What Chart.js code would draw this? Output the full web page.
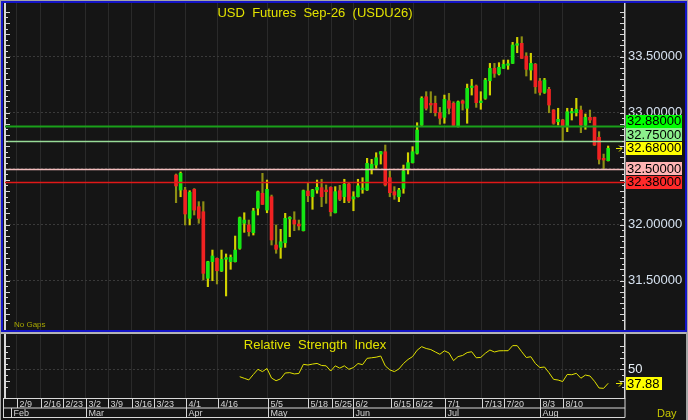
<!DOCTYPE html>
<html>
<head>
<meta charset="utf-8">
<script src="https://cdn.jsdelivr.net/npm/chart.js@4.4.1/dist/chart.umd.min.js"></script>
<style>
  html, body { margin: 0; padding: 0; background: #a4a4a4; }
  #frame { position: relative; width: 688px; height: 420px; overflow: hidden; background: #a4a4a4; }
  #main { position: absolute; left: 1px; top: 1px; width: 682px; height: 327px; border: 2px solid #1414c8; background: #151515; }
  #rsiPanel { position: absolute; left: 1px; top: 332px; width: 685px; height: 86px; border-top: 2px solid #b4b4b4; background: #151515; }
  .box { position: absolute; }
  #priceBox { left: 3px; top: 3px; width: 682px; height: 327px; }
  #rsiBox { left: 3px; top: 334px; width: 682px; height: 86px; }
</style>
</head>
<body>
<div id="frame">
  <div id="main"></div>
  <div id="rsiPanel"></div>
  <div class="box" id="priceBox"><canvas id="price"></canvas></div>
  <div class="box" id="rsiBox"><canvas id="rsi"></canvas></div>
</div>
<script>
// daily bars, oldest first
const opens = [
  32.442, 32.308, 32.308, 32.055, 32.314, 32.159, 32.114, 31.520, 31.668, 31.698,
  31.585, 31.690, 31.668, 31.668, 31.787, 32.011, 31.996, 31.927, 32.145, 32.279,
  32.129, 32.248, 31.817, 31.796, 31.837, 32.050, 32.040, 32.004, 31.945, 32.299,
  32.248, 32.308, 32.329, 32.308, 32.332, 32.105, 32.302, 32.248, 32.362, 32.228,
  32.248, 32.312, 32.308, 32.493, 32.531, 32.629, 32.650, 32.418, 32.293, 32.248,
  32.323, 32.493, 32.552, 32.636, 32.888, 33.141, 33.082, 33.082, 32.998, 32.957,
  33.105, 33.082, 32.873, 33.103, 33.038, 33.223, 33.237, 33.088, 33.127, 33.284,
  33.395, 33.344, 33.395, 33.422, 33.439, 33.601, 33.618, 33.504, 33.379, 33.430,
  33.281, 33.180, 33.207, 33.022, 32.918, 32.933, 32.873, 32.996, 32.998, 33.022,
  32.888, 32.957, 32.957, 32.779, 32.591, 32.570
];
const highs = [
  32.451, 32.469, 32.332, 32.302, 32.321, 32.204, 32.204, 31.672, 31.772, 31.702,
  31.772, 31.737, 31.728, 31.897, 32.067, 32.105, 32.040, 32.145, 32.299, 32.457,
  32.397, 32.263, 31.996, 31.957, 32.100, 32.070, 32.114, 32.040, 32.308, 32.373,
  32.314, 32.397, 32.404, 32.353, 32.338, 32.338, 32.350, 32.404, 32.373, 32.293,
  32.404, 32.418, 32.591, 32.582, 32.641, 32.652, 32.710, 32.478, 32.338, 32.323,
  32.531, 32.641, 32.695, 32.909, 33.141, 33.186, 33.186, 33.147, 33.046, 33.156,
  33.171, 33.096, 33.103, 33.112, 33.254, 33.296, 33.246, 33.186, 33.305, 33.439,
  33.439, 33.445, 33.469, 33.469, 33.627, 33.671, 33.677, 33.534, 33.529, 33.439,
  33.305, 33.305, 33.225, 33.027, 33.038, 32.939, 33.038, 33.038, 33.127, 33.058,
  32.987, 33.022, 32.960, 32.829, 32.629, 32.701
];
const lows = [
  32.195, 32.248, 31.996, 31.996, 32.085, 32.011, 31.504, 31.445, 31.498, 31.469,
  31.580, 31.362, 31.600, 31.665, 31.779, 31.930, 31.897, 31.906, 32.085, 32.178,
  32.105, 31.817, 31.743, 31.698, 31.796, 31.891, 31.945, 31.951, 31.942, 32.204,
  32.136, 32.279, 32.159, 32.189, 32.076, 32.103, 32.213, 32.195, 32.195, 32.123,
  32.246, 32.279, 32.304, 32.451, 32.502, 32.540, 32.344, 32.248, 32.225, 32.204,
  32.279, 32.451, 32.549, 32.629, 32.884, 33.022, 32.998, 32.969, 32.895, 32.904,
  32.987, 32.879, 32.871, 33.022, 32.904, 33.156, 33.046, 33.029, 33.118, 33.156,
  33.314, 33.335, 33.393, 33.386, 33.438, 33.534, 33.482, 33.326, 33.290, 33.171,
  33.156, 33.171, 32.998, 32.895, 32.888, 32.739, 32.829, 32.933, 32.969, 32.820,
  32.850, 32.909, 32.705, 32.540, 32.493, 32.567
];
const closes = [
  32.344, 32.457, 32.094, 32.288, 32.129, 32.055, 31.564, 31.668, 31.719, 31.587,
  31.689, 31.695, 31.707, 31.772, 32.061, 32.040, 31.936, 32.121, 32.293, 32.180,
  32.314, 31.862, 31.779, 31.846, 32.055, 32.056, 32.004, 31.987, 32.302, 32.257,
  32.308, 32.332, 32.248, 32.293, 32.114, 32.293, 32.225, 32.359, 32.210, 32.248,
  32.346, 32.316, 32.546, 32.538, 32.596, 32.650, 32.353, 32.284, 32.263, 32.308,
  32.478, 32.552, 32.650, 32.844, 33.127, 33.038, 33.067, 32.998, 32.948, 33.118,
  33.038, 32.884, 33.096, 33.082, 33.216, 33.226, 33.088, 33.103, 33.290, 33.395,
  33.350, 33.404, 33.430, 33.426, 33.603, 33.605, 33.484, 33.386, 33.439, 33.230,
  33.180, 33.290, 33.067, 32.904, 32.939, 32.873, 33.007, 33.000, 33.029, 32.888,
  32.957, 32.933, 32.710, 32.582, 32.576, 32.680
];

// 14-period RSI, blank until enough bars
const rsiValues = Array(14).fill(null).concat([
  43.6, 42.2, 40.8, 45.5, 50.0, 48.0, 50.7, 42.4, 40.1, 41.8,
  46.8, 47.1, 46.0, 46.4, 54.3, 53.7, 54.5, 55.1, 53.3, 53.0,
  48.5, 53.0, 51.0, 53.0, 50.0, 51.5, 55.0, 54.0, 59.5, 60.0,
  60.5, 61.5, 53.0, 49.5, 48.0, 50.3, 55.0, 58.5, 61.0, 66.5,
  69.6, 68.0, 67.1, 65.0, 63.0, 66.0, 64.2, 57.5, 61.0, 62.0,
  64.5, 65.2, 60.0, 60.3, 63.9, 66.7, 65.0, 66.0, 66.1, 66.1,
  70.5, 70.5, 65.2, 60.2, 60.9, 55.0, 51.5, 52.0, 47.0, 41.3,
  40.7, 39.4, 45.5, 45.3, 46.5, 42.3, 45.0, 44.2, 39.6, 33.8,
  33.5, 37.88
]);

// horizontal levels drawn on the price pane
const levelValues = [32.88, 32.75, 32.50, 32.38];

// date axis (bar index where each label starts)
const dateLabels = ["2/9", "2/16", "2/23", "3/2", "3/9", "3/16", "3/23", "4/1", "4/16", "5/5",
  "5/18", "5/25", "6/2", "6/15", "6/22", "7/1", "7/13", "7/20", "8/3", "8/10"];
const dateIdx = [-35, -29.7, -24.8, -19.8, -14.9, -9.7, -4.8, 2.1, 9.2, 20.2,
  29.1, 34.2, 39, 47.2, 52.1, 59.1, 67.2, 72.1, 80, 85];
const monthLabels = ["Feb", "Mar", "Apr", "May", "Jun", "Jul", "Aug"];
const monthIdx = [-36.3, -19.8, 2.1, 20.2, 39, 59.1, 80];

const FONT = "'Liberation Sans', Arial, sans-serif";
const X_MIN = -37.6, X_MAX = 98.7;
const UP = "#14e614", DOWN = "#f02222";
const levelLineColors = ["#1aa01a", "#98dc98", "#f2bcbc", "#e01818"];
const levelLineWidths = [2, 1.5, 1.5, 1.5];
const levelBoxColors = ["#00ff00", "#8cf08c", "#ffb4b4", "#ff2a2a"];
const LAST_BOX = "#ffff00";
const AXIS_LINE = "#d8d8d8";

const isStep = (v, step) => Math.abs(v / step - Math.round(v / step)) < 1e-6;

// axis labels must not shrink the plot area
const noPad = (w) => (s) => {
  s.width = w;
  s.paddingTop = 0;
  s.paddingBottom = 0;
};

function drawArrow(ctx, xr, y) {
  ctx.strokeStyle = "#e8e800";
  ctx.lineWidth = 1;
  ctx.beginPath();
  ctx.moveTo(xr - 9, y); ctx.lineTo(xr - 3, y);
  ctx.moveTo(xr - 6, y - 3); ctx.lineTo(xr - 3, y); ctx.lineTo(xr - 6, y + 3);
  ctx.stroke();
}

// small ticks drawn inward on both value axes, longer every second step
const tickMarks = {
  id: "tickMarks",
  afterDraw(chart) {
    const { ctx, chartArea: a, scales: { y } } = chart;
    const step = chart.options.scales.y.ticks.stepSize;
    ctx.save();
    ctx.strokeStyle = AXIS_LINE;
    ctx.lineWidth = 1;
    ctx.beginPath();
    y.ticks.forEach((t) => {
      if (!isStep(t.value, step)) return;
      const py = Math.round(y.getPixelForValue(t.value)) + 0.5;
      const len = isStep(t.value, step * 2) ? 4 : 2;
      ctx.moveTo(a.left, py); ctx.lineTo(a.left + len + 1, py);
      ctx.moveTo(a.right - len - 1, py); ctx.lineTo(a.right, py);
    });
    ctx.stroke();
    ctx.restore();
  },
};

const vGrid = {
  type: "linear",
  min: X_MIN,
  max: X_MAX,
  offset: false,
  ticks: { display: false },
  grid: { color: "#2a2a2a", drawTicks: false, offset: false },
  border: { display: false },
  afterBuildTicks: (s) => { s.ticks = dateIdx.map((v) => ({ value: v })); },
};

// ---------- price pane ----------
const pricePlugin = {
  id: "pricePane",
  afterDatasetsDraw(chart) {
    const { ctx, chartArea: a, scales: { y } } = chart;
    ctx.save();
    levelValues.forEach((v, k) => {
      const py = Math.round(y.getPixelForValue(v)) + 0.5;
      ctx.strokeStyle = levelLineColors[k];
      ctx.lineWidth = levelLineWidths[k];
      ctx.beginPath();
      ctx.moveTo(a.left, py);
      ctx.lineTo(a.right, py);
      ctx.stroke();
    });
    ctx.restore();
  },
  afterDraw(chart) {
    const { ctx, chartArea: a, scales: { y } } = chart;
    const last = closes[closes.length - 1];
    ctx.save();

    ctx.fillStyle = "#e2e200";
    ctx.font = `13px ${FONT}`;
    ctx.textAlign = "center";
    ctx.textBaseline = "alphabetic";
    ctx.fillText("USD  Futures  Sep-26  (USDU26)", (a.left + a.right) / 2, 14);

    ctx.fillStyle = "#a8a800";
    ctx.font = `8px ${FONT}`;
    ctx.textAlign = "left";
    ctx.fillText("No Gaps", 11, a.bottom - 3);

    drawArrow(ctx, a.right, Math.round(y.getPixelForValue(last)) + 0.5);

    // value boxes, pushed apart around the last price
    const h = 13.5;
    const boxes = levelValues.map((v, k) => ({ v, fill: levelBoxColors[k] }));
    boxes.push({ v: last, fill: LAST_BOX, current: true });
    boxes.sort((p, q) => q.v - p.v);
    boxes.forEach((b) => { b.py = y.getPixelForValue(b.v); });
    const ci = boxes.findIndex((b) => b.current);
    for (let k = ci - 1; k >= 0; k--) boxes[k].py = Math.min(boxes[k].py, boxes[k + 1].py - h);
    for (let k = ci + 1; k < boxes.length; k++) boxes[k].py = Math.max(boxes[k].py, boxes[k - 1].py + h);
    ctx.font = `13px ${FONT}`;
    ctx.textBaseline = "middle";
    boxes.forEach((b) => {
      ctx.fillStyle = b.fill;
      ctx.fillRect(a.right + 1, Math.round(b.py - 6.5), 56, 13);
      ctx.fillStyle = "#000";
      ctx.fillText(b.v.toFixed(5), a.right + 2, b.py + 0.5);
    });
    ctx.restore();
  },
};

new Chart(document.getElementById("price"), {
  type: "bar",
  data: {
    datasets: [
      {
        label: "body",
        data: closes.map((c, i) => ({ x: i, y: [opens[i], c] })),
        backgroundColor: closes.map((c, i) => (c >= opens[i] ? UP : DOWN)),
        barThickness: 3,
        minBarLength: 1.5,
        grouped: false,
        order: 0,
      },
      {
        label: "range",
        data: closes.map((c, i) => ({ x: i, y: [lows[i], highs[i]] })),
        backgroundColor: closes.map((c, i) => (c >= opens[i] ? "#d2d200" : "#8f8f14")),
        barThickness: 1.5,
        grouped: false,
        order: 1,
      },
    ],
  },
  options: {
    responsive: true,
    maintainAspectRatio: false,
    animation: false,
    layout: { padding: 0 },
    plugins: { legend: { display: false }, tooltip: { enabled: false } },
    scales: {
      x: { ...vGrid, afterFit: (s) => { s.height = 0; } },
      y: {
        position: "right",
        min: 31.058,
        max: 33.978,
        ticks: {
          stepSize: 0.05,
          autoSkip: false,
          color: "#d6e2f0",
          font: { family: FONT, size: 13 },
          padding: 3,
          callback: (v) => (isStep(v, 0.5) ? v.toFixed(5) : ""),
        },
        grid: {
          color: (c) => (c.tick && isStep(c.tick.value, 0.5) ? "#3a3a3a" : "rgba(0,0,0,0)"),
          drawTicks: false,
        },
        border: { color: AXIS_LINE, width: 1.5, dash: [2, 2] },
        afterFit: noPad(60),
      },
      yl: {
        position: "left",
        min: 31.058,
        max: 33.978,
        ticks: { display: false },
        grid: { drawOnChartArea: false, drawTicks: false },
        border: { color: AXIS_LINE, width: 2 },
        afterFit: noPad(2),
      },
    },
  },
  plugins: [pricePlugin, tickMarks],
});

// ---------- RSI pane ----------
const rsiPlugin = {
  id: "rsiPane",
  afterDraw(chart) {
    const { ctx, chartArea: a, scales: { x, y } } = chart;
    const last = rsiValues[rsiValues.length - 1];
    ctx.save();

    ctx.fillStyle = "#e2e200";
    ctx.font = `13px ${FONT}`;
    ctx.textAlign = "center";
    ctx.fillText("Relative  Strength  Index", (a.left + a.right) / 2, 15);

    const py = Math.round(y.getPixelForValue(last)) + 0.5;
    drawArrow(ctx, a.right, py);
    ctx.fillStyle = LAST_BOX;
    ctx.fillRect(a.right + 1, py - 6.5, 36, 13);
    ctx.fillStyle = "#000";
    ctx.textAlign = "left";
    ctx.textBaseline = "middle";
    ctx.fillText(last.toFixed(2), a.right + 2, py + 0.5);

    // date strip
    const b = Math.round(a.bottom) + 0.5;
    const mid = b + 9.5, bot = b + 19;
    ctx.strokeStyle = AXIS_LINE;
    ctx.lineWidth = 1;
    ctx.beginPath();
    ctx.moveTo(a.left - 2, b); ctx.lineTo(a.right, b);
    ctx.moveTo(a.left - 2, mid); ctx.lineTo(a.right, mid);
    ctx.moveTo(a.left - 2, bot); ctx.lineTo(a.right, bot);
    ctx.moveTo(a.right, b); ctx.lineTo(a.right, bot);
    ctx.moveTo(a.left - 1.5, b); ctx.lineTo(a.left - 1.5, bot);
    ctx.stroke();

    ctx.font = `9px ${FONT}`;
    ctx.fillStyle = "#d4d4d4";
    ctx.textBaseline = "alphabetic";
    dateLabels.forEach((lab, k) => {
      const px = Math.round(x.getPixelForValue(dateIdx[k])) + 0.5;
      ctx.beginPath(); ctx.moveTo(px, b); ctx.lineTo(px, mid); ctx.stroke();
      ctx.fillText(lab, px + 2, b + 8.5);
    });
    monthLabels.forEach((lab, k) => {
      const px = Math.round(x.getPixelForValue(monthIdx[k])) + 0.5;
      ctx.beginPath(); ctx.moveTo(px, mid); ctx.lineTo(px, bot); ctx.stroke();
      ctx.fillText(lab, px + 2, mid + 8);
    });

    ctx.fillStyle = "#c8c800";
    ctx.font = `11px ${FONT}`;
    ctx.fillText("Day", a.right + 32, mid + 9);
    ctx.restore();
  },
};

new Chart(document.getElementById("rsi"), {
  type: "line",
  data: {
    datasets: [
      {
        label: "RSI",
        data: rsiValues.map((v, i) => ({ x: i, y: v })),
        borderColor: "#e2e200",
        borderWidth: 1,
        pointRadius: 0,
        tension: 0,
        spanGaps: false,
      },
    ],
  },
  options: {
    responsive: true,
    maintainAspectRatio: false,
    animation: false,
    layout: { padding: { top: 1 } },
    plugins: { legend: { display: false }, tooltip: { enabled: false } },
    scales: {
      x: { ...vGrid, afterFit: (s) => { s.height = 22; } },
      y: {
        position: "right",
        min: 25.15,
        max: 79.7,
        ticks: {
          stepSize: 5,
          autoSkip: false,
          color: "#e6eef6",
          font: { family: FONT, size: 13 },
          padding: 3,
          callback: (v) => (v === 50 ? String(v) : ""),
        },
        grid: {
          color: (c) => (c.tick && c.tick.value === 50 ? "#3a3a3a" : "rgba(0,0,0,0)"),
          drawTicks: false,
        },
        border: { color: AXIS_LINE, width: 1.5, dash: [2, 2] },
        afterFit: noPad(60),
      },
      yl: {
        position: "left",
        min: 25.15,
        max: 79.7,
        ticks: { display: false },
        grid: { drawOnChartArea: false, drawTicks: false },
        border: { color: AXIS_LINE, width: 2 },
        afterFit: noPad(2),
      },
    },
  },
  plugins: [rsiPlugin, tickMarks],
});
</script>
</body>
</html>
